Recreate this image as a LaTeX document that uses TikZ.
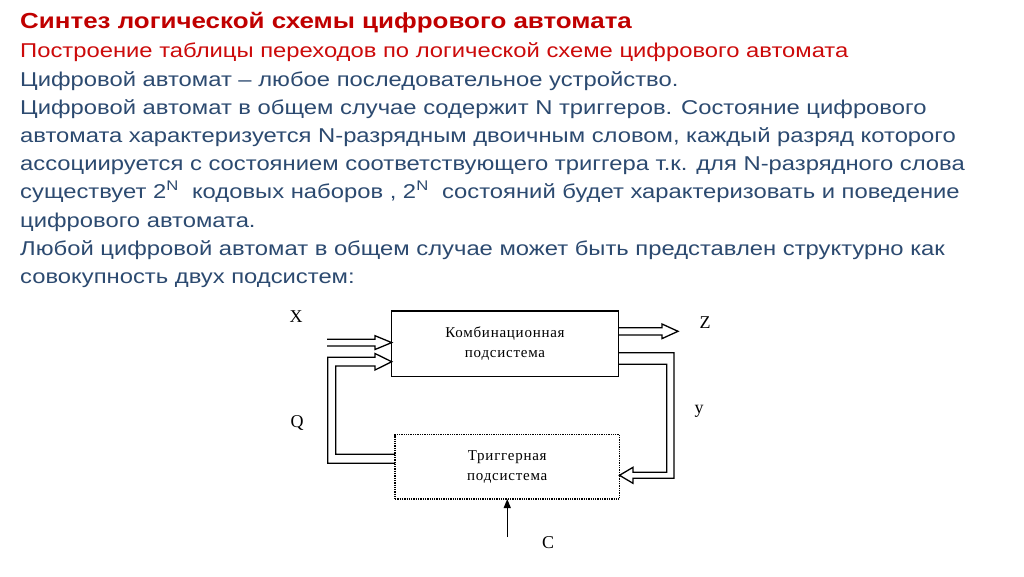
\documentclass[tikz,border=0pt]{standalone}
\usepackage{fontspec}
\setmainfont{Liberation Sans}
\newfontfamily\bodyfont[FakeStretch=1.19]{Liberation Sans}
\newfontfamily\diagfont[LetterSpace=5]{Liberation Serif}
\newfontfamily\sigfont{Liberation Serif}
\usetikzlibrary{arrows.meta}
\definecolor{titlered}{HTML}{C00000}
\definecolor{subred}{HTML}{CC0A0A}
\definecolor{bodyblue}{HTML}{2C4A70}
\tikzset{
  line/.style={anchor=base west, inner sep=0pt, font=\bodyfont\fontsize{20}{24}\selectfont},
  bodyline/.style={line, text=bodyblue},
  sysbox/.style={draw=black, line width=1.3pt, inner sep=0pt, outer sep=0pt, align=center,
    font=\diagfont\fontsize{15}{20}\selectfont},
  hollow/.style={draw=black, line width=1.3pt, line join=miter},
  sig/.style={font=\sigfont\fontsize{18}{18}\selectfont, inner sep=0pt},
}
\begin{document}
\begin{tikzpicture}[x=1pt,y=-1pt]
\useasboundingbox[fill=white] (0,0) rectangle (1024,576);
% texts
\node[line, text=titlered, font=\bodyfont\bfseries\fontsize{21.8}{24}\selectfont] (t0) at (20,28) {Синтез логической схемы цифрового автомата};
\node[line, text=subred] (t1) at (20,57) {Построение таблицы переходов по логической схеме цифрового автомата};
\node[bodyline] (t2) at (20,86) {Цифровой автомат – любое последовательное устройство.};
\node[bodyline] (t3) at (20,114) {Цифровой автомат в общем случае содержит N триггеров. Состояние цифрового};
\node[bodyline] (t4) at (20,142) {автомата характеризуется N-разрядным двоичным словом, каждый разряд которого};
\node[bodyline] (t5) at (20,170) {ассоциируется с состоянием соответствующего триггера т.к. для N-разрядного слова};
\node[bodyline] (t6) at (20,198) {существует 2\textsuperscript{N}\ \ кодовых наборов , 2\textsuperscript{N}\ \ состояний будет характеризовать и поведение};
\node[bodyline] (t7) at (20,227) {цифрового автомата.};
\node[bodyline] (t8) at (20,255) {Любой цифровой автомат в общем случае может быть представлен структурно как};
\node[bodyline] (t9) at (20,283) {совокупность двух подсистем:};
% boxes
\node[sysbox, minimum width=226.6pt, minimum height=65.7pt] (comb) at (505,343.85) {Комбинационная\\подсистема};
\node[sysbox, densely dotted, minimum width=224.5pt, minimum height=64.5pt] (trig) at (507.25,466.75) {Триггерная\\подсистема};
% X input arrow
\draw[hollow] (327,339.3) -- (375,339.3) -- (375,335.7) -- (comb.west |- 0,342.6) -- (375,349.5) -- (375,345.9) -- (327,345.9);
% Q feedback arrow
\draw[hollow] (trig.west |- 0,463.3) -- (327.7,463.3) -- (327.7,357.3) -- (375,357.3) -- (375,353.5)
   -- (comb.west |- 0,361.7) -- (375,370) -- (375,366) -- (335.7,366) -- (335.7,454.3) -- (trig.west |- 0,454.3);
% Z output arrow
\draw[hollow] (comb.east |- 0,327.7) -- (662,327.7) -- (662,324) -- (678,331.3) -- (662,338.6) -- (662,335) -- (comb.east |- 0,335);
% y arrow
\draw[hollow] (comb.east |- 0,352.7) -- (674,352.7) -- (674,478.3) -- (633,478.3) -- (633,483.3)
   -- (trig.east |- 0,475.3) -- (633,467.3) -- (633,472.3) -- (666.7,472.3) -- (666.7,364.3) -- (comb.east |- 0,364.3);
% C arrow
\coordinate (c0) at (507.25,537);
\draw[line width=1.3pt, -{Triangle[length=9pt,width=7pt]}] (c0) -- (trig.south);
% labels
\node[sig] (lx) at (296,317) {X};
\node[sig] (lz) at (705,323) {Z};
\node[sig] (ly) at (699,411) {y};
\node[sig] (lq) at (297,423) {Q};
\node[sig] (lc) at (548,543) {C};
\end{tikzpicture}
\end{document}
